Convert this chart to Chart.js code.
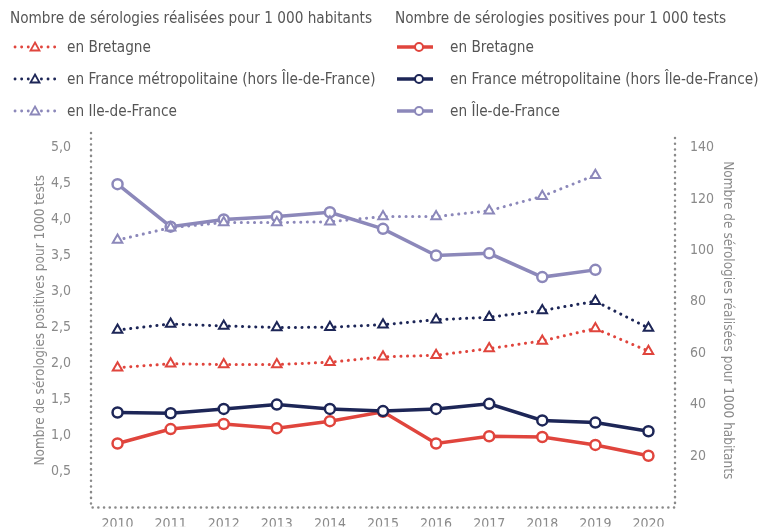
<!DOCTYPE html>
<html>
<head>
<meta charset="utf-8">
<script src="https://cdn.jsdelivr.net/npm/chart.js@4.4.1/dist/chart.umd.min.js"></script>
<style>
  body { margin: 0; background: #fff; }
  #wrap { position: relative; width: 767px; height: 528px; font-family: "Liberation Sans Narrow", "DejaVu Sans Condensed", sans-serif; color: #555; }
  #chart { position: absolute; left: 0; top: 0; }
  .lg { position: absolute; font-size: 16.5px; white-space: nowrap; line-height: 20px; transform: scaleX(0.92); transform-origin: 0 50%; }
  .sym { position: absolute; }
</style>
</head>
<body>
<div id="wrap">
  <canvas id="chart" width="767" height="528"></canvas>
  <div id="legend"></div>
</div>
<script>
// categories
const years = ['2010', '2011', '2012', '2013', '2014', '2015', '2016', '2017', '2018', '2019', '2020'];

// sérologies positives pour 1000 tests (axe gauche)
const posBretagne = [0.89, 1.09, 1.16, 1.10, 1.20, 1.33, 0.89, 0.99, 0.98, 0.87, 0.72];
const posFrance = [1.32, 1.31, 1.37, 1.43, 1.37, 1.34, 1.37, 1.44, 1.21, 1.18, 1.06];
const posIdf = [4.49, 3.90, 4.00, 4.04, 4.10, 3.87, 3.50, 3.53, 3.20, 3.30, null];

// sérologies réalisées pour 1000 habitants (axe droit)
const testsBretagne = [54.4, 55.9, 55.6, 55.6, 56.5, 58.6, 59.2, 61.8, 64.8, 69.6, 60.8];
const testsFrance = [69.0, 71.4, 70.6, 70.0, 70.1, 71.1, 73.0, 74.0, 76.6, 80.2, 69.8];
const testsIdf = [104.0, 108.8, 110.8, 110.8, 111.1, 113.1, 113.1, 115.4, 121.0, 129.2, null];

// tick labels
const leftTicks = [0.5, 1.0, 1.5, 2.0, 2.5, 3.0, 3.5, 4.0, 4.5, 5.0];
const rightTicks = [20, 40, 60, 80, 100, 120, 140];

const legendLeftTitle = 'Nombre de sérologies réalisées pour 1 000 habitants';
const legendRightTitle = 'Nombre de sérologies positives pour 1 000 tests';
const leftNames = ['en Bretagne', 'en France métropolitaine (hors Île-de-France)', 'en Ile-de-France'];
const rightNames = ['en Bretagne', 'en France métropolitaine (hors Île-de-France)', 'en Île-de-France'];

const RED = '#e0453d';
const NAVY = '#1d2657';
const LILAC = '#8c88ba';
const GREY = '#8a8a8a';
const colors = [RED, NAVY, LILAC];

const FONT = '"Liberation Sans Narrow", "DejaVu Sans Condensed", sans-serif';

// legend (html)
const legend = document.getElementById('legend');
function addText(txt, x, y) {
  const d = document.createElement('div');
  d.className = 'lg';
  d.textContent = txt;
  d.style.left = x + 'px';
  d.style.top = (y - 10) + 'px';
  legend.appendChild(d);
}
function addSym(x, y, color, dotted, mx) {
  const ns = 'http://www.w3.org/2000/svg';
  const s = document.createElementNS(ns, 'svg');
  s.setAttribute('class', 'sym');
  s.setAttribute('width', 44);
  s.setAttribute('height', 14);
  s.style.left = x + 'px';
  s.style.top = (y - 7) + 'px';
  const l = document.createElementNS(ns, 'line');
  l.setAttribute('x1', 2); l.setAttribute('x2', dotted ? 42 : 38);
  l.setAttribute('y1', 7); l.setAttribute('y2', 7);
  l.setAttribute('stroke', color);
  if (dotted) {
    l.setAttribute('stroke-width', 2.8);
    l.setAttribute('stroke-linecap', 'round');
    l.setAttribute('stroke-dasharray', '0.1 6.5');
  } else {
    l.setAttribute('stroke-width', 3.5);
  }
  s.appendChild(l);
  let m;
  if (dotted) {
    m = document.createElementNS(ns, 'polygon');
    m.setAttribute('points', `${mx},2.5 ${mx + 4.5},10.5 ${mx - 4.5},10.5`);
    m.setAttribute('stroke-width', 1.8);
  } else {
    m = document.createElementNS(ns, 'circle');
    m.setAttribute('cx', mx); m.setAttribute('cy', 7); m.setAttribute('r', 4);
    m.setAttribute('stroke-width', 2);
  }
  m.setAttribute('fill', '#fff');
  m.setAttribute('stroke', color);
  s.appendChild(m);
  legend.appendChild(s);
}
addText(legendLeftTitle, 10, 18);
addText(legendRightTitle, 395, 18);
const rowsY = [47, 79, 111];
rowsY.forEach((y, i) => {
  addSym(13, y, colors[i], true, 22);
  addText(leftNames[i], 67, y);
  addSym(395, y, colors[i], false, 24);
  addText(rightNames[i], 450, y);
});

// datasets
function solid(data, color) {
  return {
    data, yAxisID: 'y', borderColor: color, backgroundColor: '#fff',
    borderWidth: 3.5, pointStyle: 'circle', pointRadius: 5, pointBorderWidth: 2.5,
    pointBackgroundColor: '#fff', pointBorderColor: color, tension: 0, spanGaps: false
  };
}
function dotted(data, color) {
  return {
    data, yAxisID: 'y1', borderColor: color, backgroundColor: '#fff',
    borderWidth: 3, borderDash: [0.1, 6.5], borderCapStyle: 'round',
    pointStyle: 'triangle', pointRadius: 5.5, pointBorderWidth: 2,
    pointBackgroundColor: '#fff', pointBorderColor: color, tension: 0
  };
}

// dotted axis lines (left, right, bottom)
const dottedAxes = {
  id: 'dottedAxes',
  beforeDatasetsDraw(chart) {
    const { ctx, chartArea: a } = chart;
    ctx.save();
    ctx.strokeStyle = GREY;
    ctx.lineWidth = 2.5;
    ctx.lineCap = 'round';
    ctx.setLineDash([0.1, 5.6]);
    ctx.beginPath();
    ctx.moveTo(a.left, a.top); ctx.lineTo(a.left, a.bottom);
    ctx.lineTo(a.right, a.bottom); ctx.lineTo(a.right, a.top);
    ctx.stroke();
    ctx.restore();
  }
};

const noGrid = { display: false };
const noBorder = { display: false };

new Chart(document.getElementById('chart'), {
  type: 'line',
  data: {
    labels: years,
    datasets: [
      dotted(testsBretagne, RED),
      dotted(testsFrance, NAVY),
      dotted(testsIdf, LILAC),
      solid(posIdf, LILAC),
      solid(posFrance, NAVY),
      solid(posBretagne, RED)
    ]
  },
  plugins: [dottedAxes],
  options: {
    responsive: false,
    animation: false,
    layout: { padding: { top: 133, left: 0, right: 0, bottom: 0 } },
    plugins: { legend: { display: false }, tooltip: { enabled: false } },
    scales: {
      x: {
        offset: true,
        grid: noGrid,
        border: noBorder,
        ticks: { color: GREY, font: { family: FONT, size: 14 }, padding: 0, maxRotation: 0 },
        afterFit: s => { s.height = 19; }
      },
      y: {
        position: 'left',
        min: 0, max: 5.2,
        grid: noGrid,
        border: noBorder,
        afterBuildTicks: s => { s.ticks = leftTicks.map(v => ({ value: v })); },
        ticks: {
          color: GREY, font: { family: FONT, size: 14 }, padding: 12,
          callback: v => v.toFixed(1).replace('.', ',')
        },
        title: {
          display: true, text: 'Nombre de sérologies positives pour 1000 tests',
          color: GREY, font: { family: FONT, size: 13.5 }, padding: { top: 32, bottom: 0 }
        },
        afterFit: s => { s.width = 91; }
      },
      y1: {
        position: 'right',
        min: 0, max: 145.6,
        grid: noGrid,
        border: noBorder,
        afterBuildTicks: s => { s.ticks = rightTicks.map(v => ({ value: v })); },
        ticks: {
          color: GREY, font: { family: FONT, size: 14 }, padding: 7,
          callback: v => String(v)
        },
        title: {
          display: true, text: 'Nombre de sérologies réalisées pour 1000 habitants',
          color: GREY, font: { family: FONT, size: 13.5 }, padding: { top: 31, bottom: 0 }
        },
        afterFit: s => { s.width = 92; }
      }
    }
  }
});
</script>
</body>
</html>
